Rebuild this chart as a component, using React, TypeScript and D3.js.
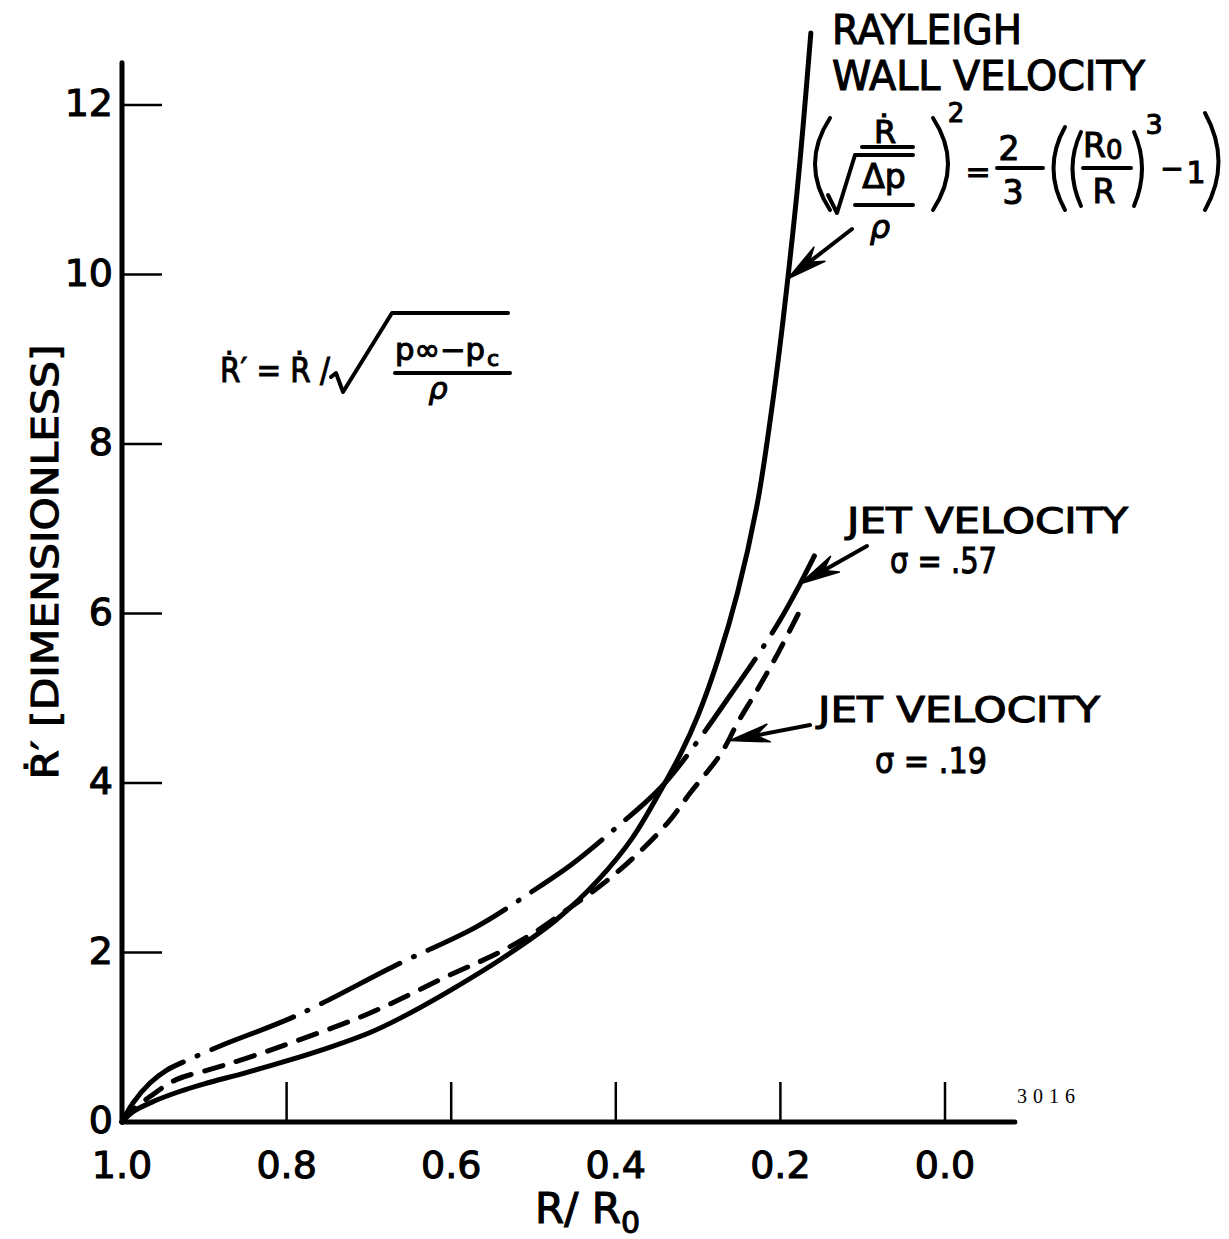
import * as d3 from 'd3';

// R/R0 axis runs backwards, 1.0 on the left
const xTickValues = [1.0, 0.8, 0.6, 0.4, 0.2, 0.0];
const xTickLabels = ['1.0', '0.8', '0.6', '0.4', '0.2', '0.0'];
const yTickValues = [0, 2, 4, 6, 8, 10, 12];

// Rayleigh wall velocity (solid)
const rayleighX = [1.0, 0.987, 0.96, 0.93, 0.9, 0.85, 0.8, 0.745, 0.7, 0.663, 0.6, 0.535, 0.473, 0.421, 0.38, 0.345, 0.321, 0.3, 0.276, 0.252, 0.228, 0.21, 0.2, 0.191, 0.18, 0.172, 0.163];
const rayleighY = [0, 0.12, 0.25, 0.36, 0.45, 0.58, 0.72, 0.89, 1.05, 1.22, 1.56, 1.95, 2.38, 2.86, 3.35, 3.92, 4.35, 4.8, 5.45, 6.25, 7.3, 8.45, 9.2, 9.95, 10.95, 11.8, 12.85];

// jet velocity sigma = .57 (dash-dot)
const jet57X = [1.0, 0.987, 0.966, 0.946, 0.918, 0.88, 0.787, 0.663, 0.57, 0.494, 0.455, 0.406, 0.345, 0.3, 0.26, 0.228, 0.2, 0.176, 0.153];
const jet57Y = [0, 0.22, 0.46, 0.61, 0.74, 0.9, 1.26, 1.87, 2.3, 2.77, 3.03, 3.42, 3.95, 4.5, 5.05, 5.5, 5.93, 6.35, 6.79];

// jet velocity sigma = .19 (dashed)
const jet19X = [1.0, 0.987, 0.966, 0.934, 0.893, 0.853, 0.79, 0.7, 0.607, 0.542, 0.5, 0.46, 0.413, 0.373, 0.337, 0.309, 0.272, 0.252, 0.228, 0.203, 0.177];
const jet19Y = [0, 0.14, 0.3, 0.5, 0.62, 0.74, 0.95, 1.28, 1.71, 2.0, 2.23, 2.5, 2.83, 3.17, 3.53, 3.89, 4.35, 4.71, 5.1, 5.53, 6.02];

const W = 1229;
const H = 1239;
const FONT = '"DejaVu Sans", sans-serif';

const x = d3.scaleLinear().domain([1.0, 0.0]).range([122, 945]);
const y = d3.scaleLinear().domain([0, 12]).range([1122, 105]);

const line = d3
  .line<[number, number]>()
  .x((d) => x(d[0]))
  .y((d) => y(d[1]))
  .curve(d3.curveCatmullRom.alpha(0.5));

const zip = (xs: number[], ys: number[]) => xs.map((v, i) => [v, ys[i]] as [number, number]);

function Arrow({ tail, tip }: { tail: [number, number]; tip: [number, number] }) {
  const dx = tail[0] - tip[0];
  const dy = tail[1] - tip[1];
  const len = Math.hypot(dx, dy);
  const ux = dx / len, uy = dy / len;
  const nx = -uy, ny = ux;
  const L = 40, Wd = 9, N = 27;
  const p1 = [tip[0] + ux * L + nx * Wd, tip[1] + uy * L + ny * Wd];
  const p2 = [tip[0] + ux * N, tip[1] + uy * N];
  const p3 = [tip[0] + ux * L - nx * Wd, tip[1] + uy * L - ny * Wd];
  return (
    <g>
      <line x1={tail[0]} y1={tail[1]} x2={p2[0]} y2={p2[1]} stroke="#000" strokeWidth={4} strokeLinecap="round" />
      <path d={`M${tip[0]},${tip[1]}L${p1[0]},${p1[1]}L${p2[0]},${p2[1]}L${p3[0]},${p3[1]}Z`} fill="#000" stroke="#000" strokeWidth={1.5} strokeLinejoin="round" />
    </g>
  );
}

export default function App() {
  const x0 = x(1.0);
  const xEnd = x(-0.085);
  const y0 = y(0);
  const yTop = y(12.5);

  return (
    <svg width={W} height={H} style={{ position: 'absolute', left: 0, top: 0, background: '#fff' }} fontFamily={FONT}>
      <rect width={W} height={H} fill="#fff" />

      {/* axes */}
      <line x1={x0} y1={y0} x2={xEnd} y2={y0} stroke="#000" strokeWidth={5} strokeLinecap="round" />
      <line x1={x0} y1={y0} x2={x0} y2={yTop} stroke="#000" strokeWidth={5} strokeLinecap="round" />

      {xTickValues.slice(1).map((v) => (
        <line key={'xt' + v} x1={x(v)} x2={x(v)} y1={y0} y2={y0 - 40} stroke="#000" strokeWidth={2.5} />
      ))}
      {yTickValues.slice(1).map((v) => (
        <line key={'yt' + v} x1={x0} x2={x0 + 40} y1={y(v)} y2={y(v)} stroke="#000" strokeWidth={2.5} />
      ))}

      {/* curves */}
      <path d={line(zip(rayleighX, rayleighY)) || ''} fill="none" stroke="#000" strokeWidth={5} strokeLinecap="round" />
      <path d={line(zip(jet57X, jet57Y)) || ''} fill="none" stroke="#000" strokeWidth={5} strokeLinecap="round" strokeDasharray="88 15 1 15" />
      <path d={line(zip(jet19X, jet19Y)) || ''} fill="none" stroke="#000" strokeWidth={5} strokeLinecap="round" strokeDasharray="19 14" />

      {/* arrows */}
      <Arrow tail={[852, 229]} tip={[x(0.191), y(9.95)]} />
      <Arrow tail={[867, 546]} tip={[x(0.176), y(6.35)]} />
      <Arrow tail={[810, 725]} tip={[x(0.262), y(4.5)]} />

      <g stroke="#000" strokeWidth={1.1}>
        {xTickValues.map((v, i) => (
          <text key={'xl' + v} x={x(v)} y={1178} fontSize={38} textAnchor="middle">{xTickLabels[i]}</text>
        ))}
        {yTickValues.map((v) => (
          <text key={'yl' + v} x={113} y={y(v) - 2} fontSize={38} textAnchor="end" dominantBaseline="central">{v}</text>
        ))}

        {/* axis titles */}
        <text x={535} y={1223} fontSize={42}>
          R/ R<tspan dy={10} fontSize={30}>0</tspan>
        </text>
        <text transform="translate(58,562) rotate(-90)" fontSize={38} textAnchor="middle" textLength={435} lengthAdjust="spacingAndGlyphs">
          Ṙ′ [DIMENSIONLESS]
        </text>

        {/* labels */}
        <text x={832} y={44} fontSize={40} textLength={190} lengthAdjust="spacingAndGlyphs">RAYLEIGH</text>
        <text x={832} y={90} fontSize={40} textLength={313} lengthAdjust="spacingAndGlyphs">WALL VELOCITY</text>

        <text x={847} y={533} fontSize={36} textLength={281} lengthAdjust="spacingAndGlyphs">JET VELOCITY</text>
        <text x={890} y={573} fontSize={36} textLength={107} lengthAdjust="spacingAndGlyphs">σ = .57</text>
        <text x={818} y={722} fontSize={36} textLength={282} lengthAdjust="spacingAndGlyphs">JET VELOCITY</text>
        <text x={875} y={773} fontSize={36} textLength={112} lengthAdjust="spacingAndGlyphs">σ = .19</text>

        {/* Rayleigh formula */}
        <text x={885} y={143} fontSize={32} textAnchor="middle">Ṙ</text>
        <text x={884} y={188} fontSize={33} textAnchor="middle">Δp</text>
        <text x={880} y={238} fontSize={32} textAnchor="middle" fontStyle="italic">ρ</text>
        <text x={956} y={122} fontSize={26} textAnchor="middle">2</text>
        <text x={978} y={182} fontSize={30} textAnchor="middle">=</text>
        <text x={1009} y={160} fontSize={33} textAnchor="middle">2</text>
        <text x={1013} y={204} fontSize={33} textAnchor="middle">3</text>
        <text x={1083} y={157} fontSize={33}>R<tspan fontSize={26} dy={2}>0</tspan></text>
        <text x={1104} y={203} fontSize={33} textAnchor="middle">R</text>
        <text x={1154} y={134} fontSize={27} textAnchor="middle">3</text>
        <text x={1172} y={178} fontSize={28} textAnchor="middle">−</text>
        <text x={1196} y={183} fontSize={30} textAnchor="middle">1</text>

        {/* definition of R-dot prime */}
        <text x={220} y={382} fontSize={34} textLength={110} lengthAdjust="spacingAndGlyphs">Ṙ′ = Ṙ /</text>
        <text x={395} y={360} fontSize={30} textLength={90} lengthAdjust="spacingAndGlyphs">p∞−p</text>
        <text x={487} y={366} fontSize={22}>c</text>
        <text x={438} y={399} fontSize={30} textAnchor="middle" fontStyle="italic">ρ</text>
      </g>

      <g stroke="#000" strokeWidth={4} fill="none" strokeLinecap="round" strokeLinejoin="round">
        <path d="M830,118 Q800,164 830,210" />
        <line x1={862} y1={147} x2={913} y2={147} />
        <path d="M828,195 L837,213 L855,155 L913,155" />
        <line x1={855} y1={205} x2={913} y2={205} />
        <path d="M933,118 Q963,164 933,210" />
        <line x1={997} y1={168} x2={1043} y2={168} />
        <path d="M1065,127 Q1042,168 1065,210" />
        <path d="M1081,132 Q1064,168 1081,206" />
        <line x1={1083} y1={168} x2={1131} y2={168} />
        <path d="M1134,132 Q1150,168 1134,206" />
        <path d="M1205,113 Q1232,162 1205,210" />
        <path d="M331,377 L336,373 L343,392 L392,313 L508,313" />
        <line x1={395} y1={373} x2={510} y2={373} />
      </g>

      <text x={1017} y={1103} fontSize={20} fontFamily='"Liberation Serif", serif' textLength={58}>3016</text>
    </svg>
  );
}
